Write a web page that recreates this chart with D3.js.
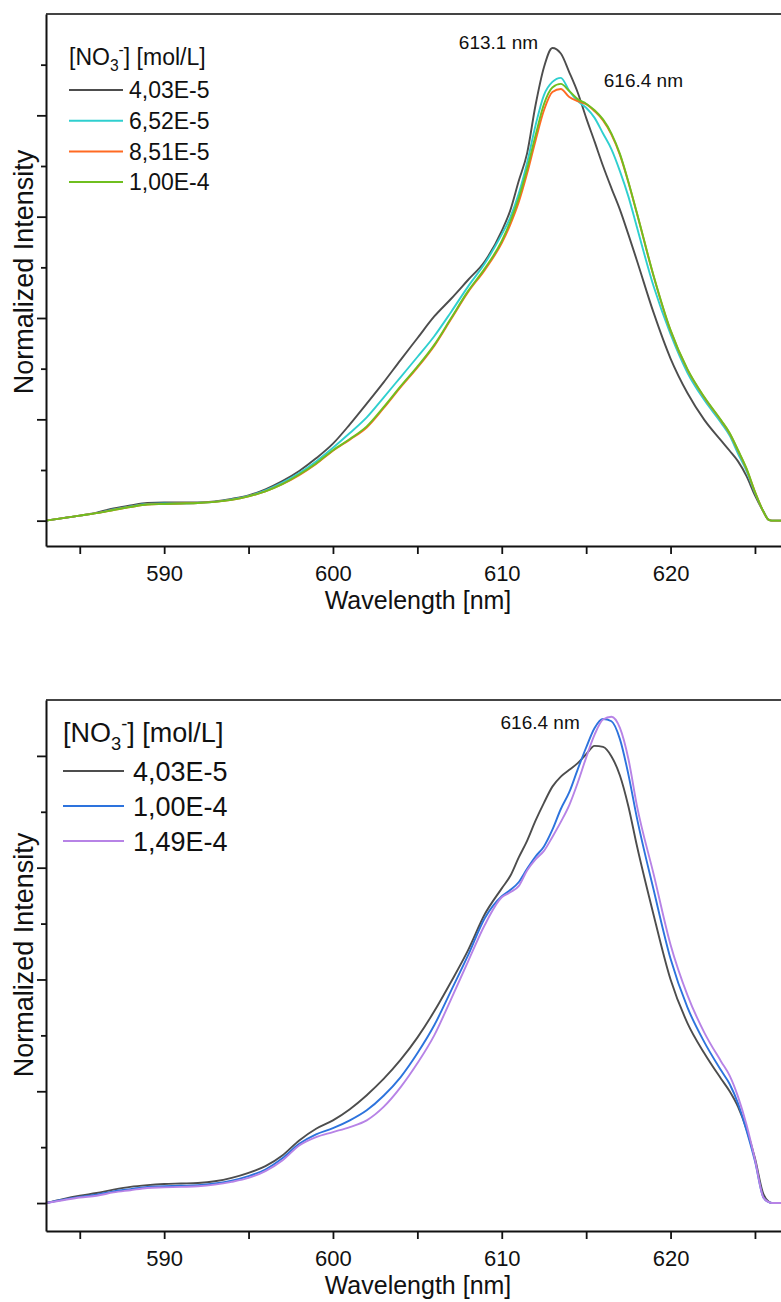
<!DOCTYPE html>
<html>
<head>
<meta charset="utf-8">
<script src="https://cdn.jsdelivr.net/npm/d3@7"></script>
<style>
  body { margin: 0; background: #fff; }
  text { font-family: "Liberation Sans", Arial, sans-serif; fill: #111; }
</style>
</head>
<body>
<svg id="chart" width="781" height="1302"></svg>
<script>
// wavelength grid [nm], shared by every spectrum
var wavelengths = [583, 584, 585, 586, 587, 588, 589, 590, 591, 592, 593, 594, 595, 596, 597, 598, 599,
  600, 601, 602, 603, 604, 605, 606, 607, 608, 609, 610, 610.5, 611, 611.5, 612, 612.5, 613, 613.5,
  614, 614.5, 615, 615.5, 616, 616.5, 617, 617.5, 618, 619, 620, 621, 622, 623, 623.5, 624, 624.5,
  625, 625.5, 625.8, 626, 627, 628, 630];

// upper panel spectra
var topBlack = [0, 0.005, 0.010, 0.016, 0.024, 0.030, 0.035, 0.036, 0.036, 0.036, 0.038, 0.043, 0.050, 0.062, 0.078, 0.098, 0.123,
  0.152, 0.190, 0.231, 0.273, 0.317, 0.360, 0.403, 0.438, 0.475, 0.512, 0.572, 0.612, 0.670, 0.725, 0.820, 0.895, 0.933, 0.922,
  0.885, 0.845, 0.795, 0.748, 0.700, 0.656, 0.614, 0.565, 0.514, 0.410, 0.320, 0.252, 0.199, 0.158, 0.138, 0.117, 0.088,
  0.050, 0.018, 0.002, 0, 0, 0, 0];
var topCyan = [0, 0.005, 0.010, 0.015, 0.022, 0.028, 0.033, 0.034, 0.034, 0.035, 0.037, 0.042, 0.049, 0.060, 0.075, 0.094, 0.117,
  0.144, 0.173, 0.204, 0.243, 0.283, 0.323, 0.364, 0.412, 0.462, 0.508, 0.565, 0.598, 0.645, 0.706, 0.780, 0.840, 0.866, 0.874,
  0.848, 0.828, 0.815, 0.795, 0.764, 0.733, 0.690, 0.640, 0.580, 0.462, 0.368, 0.292, 0.238, 0.193, 0.168, 0.132, 0.098,
  0.055, 0.018, 0.002, 0, 0, 0, 0];
var topOrange = [0, 0.005, 0.010, 0.015, 0.021, 0.027, 0.032, 0.033, 0.034, 0.035, 0.037, 0.041, 0.048, 0.058, 0.072, 0.090, 0.112,
  0.138, 0.160, 0.184, 0.222, 0.263, 0.302, 0.345, 0.398, 0.451, 0.495, 0.548, 0.584, 0.628, 0.685, 0.750, 0.810, 0.846, 0.852,
  0.836, 0.828, 0.822, 0.808, 0.790, 0.762, 0.722, 0.668, 0.607, 0.482, 0.375, 0.298, 0.243, 0.197, 0.172, 0.138, 0.102,
  0.057, 0.018, 0.002, 0, 0, 0, 0];
var topGreen = [0, 0.005, 0.010, 0.015, 0.021, 0.027, 0.032, 0.033, 0.034, 0.035, 0.037, 0.041, 0.048, 0.058, 0.072, 0.091, 0.113,
  0.139, 0.161, 0.186, 0.224, 0.265, 0.304, 0.347, 0.400, 0.453, 0.498, 0.552, 0.590, 0.636, 0.694, 0.760, 0.822, 0.855, 0.862,
  0.848, 0.832, 0.823, 0.810, 0.792, 0.764, 0.724, 0.669, 0.608, 0.483, 0.376, 0.299, 0.244, 0.198, 0.173, 0.139, 0.103,
  0.057, 0.018, 0.002, 0, 0, 0, 0];

// lower panel spectra
var botBlack = [0, 0.007, 0.013, 0.018, 0.024, 0.029, 0.032, 0.034, 0.035, 0.036, 0.039, 0.045, 0.054, 0.066, 0.085, 0.112, 0.133,
  0.148, 0.168, 0.193, 0.222, 0.256, 0.296, 0.343, 0.396, 0.452, 0.517, 0.563, 0.585, 0.618, 0.648, 0.684, 0.716, 0.745, 0.763,
  0.775, 0.787, 0.803, 0.818, 0.816, 0.799, 0.765, 0.710, 0.640, 0.515, 0.400, 0.322, 0.268, 0.222, 0.200, 0.172, 0.132,
  0.080, 0.016, 0.003, 0, 0, 0, 0];
var botBlue = [0, 0.006, 0.011, 0.015, 0.021, 0.025, 0.029, 0.030, 0.031, 0.032, 0.035, 0.040, 0.048, 0.060, 0.080, 0.106, 0.123,
  0.134, 0.148, 0.166, 0.192, 0.225, 0.268, 0.318, 0.380, 0.443, 0.510, 0.549, 0.560, 0.574, 0.598, 0.620, 0.638, 0.668, 0.705,
  0.735, 0.776, 0.815, 0.850, 0.866, 0.862, 0.830, 0.767, 0.690, 0.560, 0.437, 0.350, 0.288, 0.237, 0.213, 0.178, 0.130,
  0.075, 0.010, 0.002, 0, 0, 0, 0];
var botPurple = [0, 0.005, 0.010, 0.013, 0.019, 0.023, 0.027, 0.028, 0.029, 0.030, 0.033, 0.038, 0.045, 0.057, 0.076, 0.103, 0.118,
  0.127, 0.136, 0.148, 0.172, 0.207, 0.250, 0.300, 0.365, 0.432, 0.498, 0.547, 0.556, 0.567, 0.595, 0.615, 0.630, 0.655, 0.682,
  0.712, 0.752, 0.797, 0.838, 0.865, 0.870, 0.850, 0.795, 0.712, 0.588, 0.462, 0.372, 0.305, 0.253, 0.228, 0.190, 0.140,
  0.078, 0.010, 0.002, 0, 0, 0, 0];

var topLabels = ["4,03E-5", "6,52E-5", "8,51E-5", "1,00E-4"];
var topColors = ["#4d4d4d", "#2fcfcf", "#ff6a22", "#6fbf1f"];
var botLabels = ["4,03E-5", "1,00E-4", "1,49E-4"];
var botColors = ["#4d4d4d", "#2d73dd", "#b783e6"];

var majorX = [590, 600, 610, 620];
var minorX = [585, 595, 605, 615, 625];
var majorY = [0, 0.2, 0.4, 0.6, 0.8];
var minorYTop = [0.1, 0.3, 0.5, 0.7, 0.9];
var minorYBot = [0.1, 0.3, 0.5, 0.7];

var svg = d3.select("#chart");

// 10 nm is about 169 px in the picture; right side runs past the edge
var x = d3.scaleLinear().domain([583, 630]).range([46, 46 + 47 * 16.88]);

var panels = [
  { top: 14, bottom: 546, yDomain: [-0.05, 1.0], series: [topBlack, topCyan, topOrange, topGreen],
    colors: topColors, labels: topLabels, minorY: minorYTop,
    legend: { x: 69, titleY: 65, rowY: 90, step: 30.7, size: 23, lineW: 54, textX: 129 },
    titleY: 272, xTitleY: 609,
    notes: [ { text: "613.1 nm", wl: 613.1, dx: -16, y: 49, anchor: "end" },
             { text: "616.4 nm", wl: 616.4, dx: -6, y: 87, anchor: "start" } ] },
  { top: 700, bottom: 1231, yDomain: [-0.05, 0.9], series: [botBlack, botBlue, botPurple],
    colors: botColors, labels: botLabels, minorY: minorYBot,
    legend: { x: 63, titleY: 742, rowY: 771, step: 35, size: 27, lineW: 61, textX: 133 },
    titleY: 955, xTitleY: 1294,
    notes: [ { text: "616.4 nm", wl: 616.4, dx: -30, y: 729, anchor: "end" } ] }
];

panels.forEach(drawPanel);

function drawPanel(p) {
  var y = d3.scaleLinear().domain(p.yDomain).range([p.bottom, p.top]);
  var g = svg.append("g");

  var line = d3.line()
    .x(function (d) { return x(d[0]); })
    .y(function (d) { return y(d[1]); })
    .curve(d3.curveMonotoneX);

  p.series.forEach(function (s, i) {
    g.append("path")
      .datum(d3.zip(wavelengths, s))
      .attr("fill", "none")
      .attr("stroke", p.colors[i])
      .attr("stroke-width", 1.9)
      .attr("stroke-linejoin", "round")
      .attr("d", line);
  });

  // top border
  g.append("line")
    .attr("x1", 46).attr("x2", 781)
    .attr("y1", p.top).attr("y2", p.top)
    .attr("stroke", "#444").attr("stroke-width", 2);

  // x axis
  var xa = g.append("g")
    .attr("transform", "translate(0," + p.bottom + ")")
    .call(d3.axisBottom(x).tickValues(majorX).tickSize(8).tickSizeOuter(0).tickPadding(11)
      .tickFormat(d3.format("d")));
  g.append("g")
    .attr("transform", "translate(0," + p.bottom + ")")
    .call(d3.axisBottom(x).tickValues(minorX).tickSize(8).tickSizeOuter(0).tickFormat(""))
    .select(".domain").remove();
  xa.selectAll("text").style("font-size", "22px").attr("fill", "#111");

  // y axis, no labels
  g.append("g")
    .attr("transform", "translate(46,0)")
    .call(d3.axisLeft(y).tickValues(majorY).tickSize(9).tickSizeOuter(0).tickFormat(""));
  g.append("g")
    .attr("transform", "translate(46,0)")
    .call(d3.axisLeft(y).tickValues(p.minorY).tickSize(5).tickSizeOuter(0).tickFormat(""))
    .select(".domain").remove();

  g.selectAll(".domain").attr("stroke", "#111").attr("stroke-width", 2);
  g.selectAll(".tick line").attr("stroke", "#111").attr("stroke-width", 1.8);

  // axis titles
  g.append("text")
    .attr("x", 418).attr("y", p.xTitleY)
    .attr("text-anchor", "middle")
    .style("font-size", "25px")
    .text("Wavelength [nm]");
  g.append("text")
    .attr("transform", "translate(33," + p.titleY + ") rotate(-90)")
    .attr("text-anchor", "middle")
    .style("font-size", "27px")
    .text("Normalized Intensity");

  // peak notes
  p.notes.forEach(function (n) {
    g.append("text")
      .attr("x", x(n.wl) + n.dx).attr("y", n.y)
      .attr("text-anchor", n.anchor)
      .style("font-size", "19px")
      .text(n.text);
  });

  // legend
  var L = p.legend;
  var t = g.append("text").attr("x", L.x).attr("y", L.titleY).style("font-size", L.size + "px");
  t.append("tspan").text("[NO");
  t.append("tspan").attr("dy", L.size * 0.28).style("font-size", (L.size * 0.68) + "px").text("3");
  t.append("tspan").attr("dy", -L.size * 0.72).style("font-size", (L.size * 0.68) + "px").text("-");
  t.append("tspan").attr("dy", L.size * 0.44).text("] [mol/L]");

  p.labels.forEach(function (lab, i) {
    var ry = L.rowY + i * L.step;
    g.append("line")
      .attr("x1", L.x).attr("x2", L.x + L.lineW)
      .attr("y1", ry).attr("y2", ry)
      .attr("stroke", p.colors[i]).attr("stroke-width", 2);
    g.append("text")
      .attr("x", L.textX).attr("y", ry + L.size * 0.36)
      .style("font-size", L.size + "px")
      .text(lab);
  });
}
</script>
</body>
</html>
